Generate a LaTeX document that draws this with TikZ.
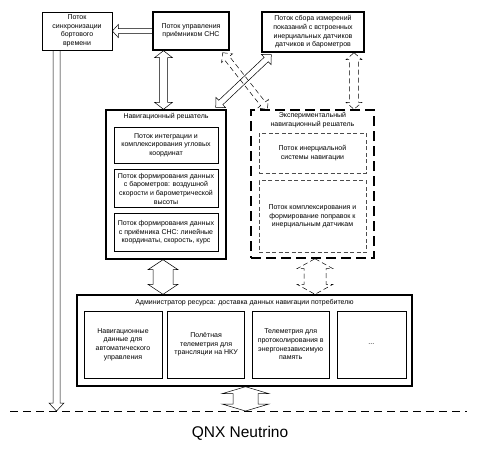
\documentclass[tikz,border=0pt]{standalone}
\usepackage{fontspec}
\setmainfont{Liberation Sans}
\usetikzlibrary{calc, positioning}
\tikzstyle{tbox} = [rectangle, draw, line width=0.6pt, align=center, inner sep=1pt, font=\fontsize{7}{8.6}\selectfont]
\tikzstyle{bbox} = [rectangle, draw, line width=1.4pt, align=center, inner sep=1pt, font=\fontsize{7}{8.6}\selectfont]
\tikzstyle{ebox} = [rectangle, draw, line width=1.4pt, dash pattern=on 10pt off 5pt]
\tikzstyle{dbox} = [rectangle, draw=black!70, line width=0.6pt, dash pattern=on 4pt off 2.5pt, align=center, inner sep=1pt, font=\fontsize{7}{8.6}\selectfont]
\tikzstyle{title} = [align=center, inner sep=0pt, font=\fontsize{7}{8.6}\selectfont]
\tikzstyle{arr} = [line width=0.5pt]
\tikzstyle{darr} = [line width=0.5pt, dash pattern=on 5pt off 3pt]
% block arrows: [style]{from}{to}{half shaft}{half head}{head length}
\newcommand{\dblarrow}[6][]{%
  \draw[#1] (#2) -- ($(#2)!#6!(#3)!#5!90:(#3)$) -- ($(#2)!#6!(#3)!#4!90:(#3)$)
    -- ($(#3)!#6!(#2)!#4!-90:(#2)$) -- ($(#3)!#6!(#2)!#5!-90:(#2)$) -- (#3)
    -- ($(#3)!#6!(#2)!#5!90:(#2)$) -- ($(#3)!#6!(#2)!#4!90:(#2)$)
    -- ($(#2)!#6!(#3)!#4!-90:(#3)$) -- ($(#2)!#6!(#3)!#5!-90:(#3)$) -- cycle;}
\newcommand{\onearrow}[6][]{%
  \draw[#1] ($(#2)!#4!90:(#3)$) -- ($(#3)!#6!(#2)!#4!-90:(#2)$)
    -- ($(#3)!#6!(#2)!#5!-90:(#2)$) -- (#3) -- ($(#3)!#6!(#2)!#5!90:(#2)$)
    -- ($(#3)!#6!(#2)!#4!90:(#2)$) -- ($(#2)!#4!-90:(#3)$) -- cycle;}

\begin{document}
\begin{tikzpicture}[x=1pt, y=-1pt]
    \useasboundingbox (0,0) rectangle (480,451);

    % upper threads
    \node[tbox, minimum width=70pt, minimum height=38pt] (sync) at (77,31) {Поток\\синхронизации\\бортового\\времени};
    \node[bbox, minimum width=76pt, minimum height=38pt] (sns) at (191,31) {Поток управления\\приёмником СНС};
    \node[bbox, minimum width=102pt, minimum height=40pt] (meas) at (313,32) {Поток сбора измерений\\показаний с встроенных\\инерциальных датчиков\\датчиков и барометров};

    % navigation solver
    \node[bbox, minimum width=120pt, minimum height=149pt] (nav) at (166,184.5) {};
    \node[title, below=4pt of nav.north] (navT) {Навигационный решатель};
    \node[tbox, minimum width=104pt, minimum height=36pt] (nav1) at (166,145) {Поток интеграции и\\комплексирования угловых\\координат};
    \node[tbox, minimum width=104pt, minimum height=38pt, below=6pt of nav1] (nav2) {Поток формирования данных\\с барометров: воздушной\\скорости и барометрической\\высоты};
    \node[tbox, minimum width=104pt, minimum height=38pt, below=5pt of nav2] (nav3) {Поток формирования данных\\с приёмника СНС: линейные\\координаты, скорость, курс};

    % experimental solver
    \node[ebox, minimum width=123pt, minimum height=148pt] (exp) at (312.5,184) {};
    \node[title, below=3pt of exp.north] (expT) {Экспериментальный\\навигационный решатель};
    \node[dbox, minimum width=107pt, minimum height=40pt] (exp1) at (312.5,153) {Поток инерциальной\\системы навигации};
    \node[dbox, minimum width=107pt, minimum height=72pt, below=7pt of exp1] (exp2) {Поток комплексирования и\\формирование поправок к\\инерциальным датчикам};

    % resource manager
    \node[bbox, minimum width=335pt, minimum height=91pt] (adm) at (244.5,340.5) {};
    \node[title, below=5pt of adm.north] (admT) {Администратор ресурса: доставка данных навигации потребителю};
    \node[tbox, minimum width=78pt, minimum height=67pt] (adm1) at (123,344.5) {Навигационные\\данные для\\автоматического\\управления};
    \node[tbox, minimum width=77pt, minimum height=67pt, right=5pt of adm1] (adm2) {Полётная\\телеметрия для\\трансляции на НКУ};
    \node[tbox, minimum width=77pt, minimum height=67pt, right=7pt of adm2] (adm3) {Телеметрия для\\протоколирования в\\энергонезависимую\\память};
    \node[tbox, minimum width=69pt, minimum height=67pt, right=7pt of adm3] (adm4) {...};

    % operating system
    \coordinate (osL) at (10,411);
    \coordinate (osR) at (467,411);
    \draw[line width=0.6pt, dash pattern=on 8pt off 5pt] (osL) -- (osR);
    \node[font=\fontsize{15.5}{18}\selectfont] (qnx) at (240,433) {QNX Neutrino};

    % connectors
    \onearrow[arr]{sns.west}{sync.east}{2.5pt}{6.5pt}{6pt}
    \coordinate (syncS) at ([xshift=-20.5pt]sync.south);
    \coordinate (syncE) at (syncS |- osL);
    \onearrow[arr]{syncS}{syncE}{3.5pt}{7.5pt}{8pt}

    \coordinate (snsS) at ([xshift=-27.5pt]sns.south);
    \coordinate (navN) at (snsS |- nav.north);
    \dblarrow[arr]{snsS}{navN}{4pt}{9pt}{7pt}

    \coordinate (measS) at ([xshift=41pt]meas.south);
    \coordinate (expN) at (measS |- exp.north);
    \dblarrow[darr]{measS}{expN}{4.5pt}{8pt}{7pt}

    \coordinate (navNE) at ([shift={(-11pt,2pt)}]nav.north east);
    \coordinate (measSW) at ([shift={(10pt,-2pt)}]meas.south west);
    \dblarrow[arr]{navNE}{measSW}{3pt}{7pt}{7pt}
    \coordinate (snsSE) at ([shift={(-7pt,-2pt)}]sns.south east);
    \coordinate (expNW) at ([xshift=17pt]exp.north west);
    \dblarrow[darr]{snsSE}{expNW}{3pt}{7pt}{7pt}

    \coordinate (navS) at ([xshift=-3pt]nav.south);
    \coordinate (admN) at (navS |- adm.north);
    \dblarrow[arr]{navS}{admN}{10pt}{15pt}{10pt}
    \coordinate (expS) at ([xshift=2.5pt]exp.south);
    \coordinate (admNE) at (expS |- adm.north);
    \dblarrow[darr]{expS}{admNE}{11pt}{18pt}{10pt}

    \coordinate (admS) at ([xshift=1pt]adm.south);
    \coordinate (osM) at (admS |- osL);
    \dblarrow[arr]{admS}{osM}{12.5pt}{23.5pt}{7pt}
\end{tikzpicture}
\end{document}
